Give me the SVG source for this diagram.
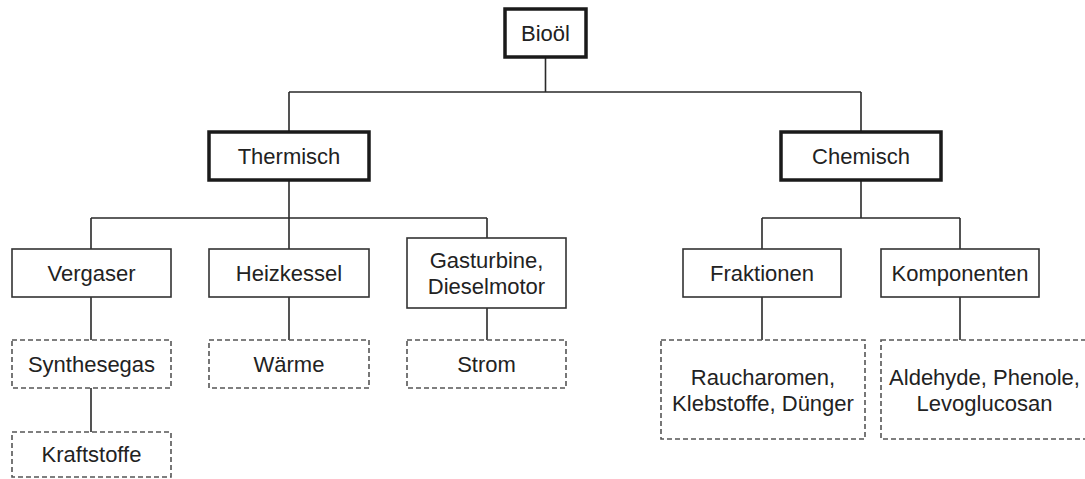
<svg xmlns="http://www.w3.org/2000/svg" width="1085" height="479" viewBox="0 0 1085 479">
<style>
text{font-family:"Liberation Sans",Arial,sans-serif;font-size:22px;fill:#222;text-anchor:middle}
.thick{fill:#fff;stroke:#1a1a1a;stroke-width:3.5}
.thin{fill:#fff;stroke:#333;stroke-width:1.6}
.dash{fill:#fff;stroke:#555;stroke-width:1.6;stroke-dasharray:5 3}
#connectors path{fill:none;stroke:#2a2a2a;stroke-width:1.6}
</style>
<rect width="1085" height="479" fill="#fff"/>
<g id="connectors">
<path d="M545.5 57V92M289 92H861M289 92V132M861 92V132"/>
<path d="M289 180V218M91 218H487M91 218V249M289 218V249M487 218V238"/>
<path d="M861 180V218M762 218H960M762 218V249M960 218V249"/>
<path d="M91 297V341M289 297V341M487 308V341M91 388V432M762 297V341M960 297V341"/>
</g>
<g id="bioel"><rect class="thick" x="505" y="9" width="81" height="48"/><text x="545.5" y="41">Bioöl</text></g>
<g id="thermisch"><rect class="thick" x="209" y="132" width="160" height="48"/><text x="289" y="163.5">Thermisch</text></g>
<g id="chemisch"><rect class="thick" x="781" y="132" width="160" height="48"/><text x="861" y="163.5">Chemisch</text></g>
<g id="vergaser"><rect class="thin" x="12" y="249" width="159" height="48"/><text x="91.5" y="280.5">Vergaser</text></g>
<g id="heizkessel"><rect class="thin" x="209" y="249" width="160" height="48"/><text x="289" y="280.5">Heizkessel</text></g>
<g id="gasturbine"><rect class="thin" x="407" y="238" width="159" height="70"/><text x="486.5" y="267.5">Gasturbine,</text><text x="486.5" y="293.5">Dieselmotor</text></g>
<g id="fraktionen"><rect class="thin" x="683" y="249" width="158" height="48"/><text x="762" y="280.5">Fraktionen</text></g>
<g id="komponenten"><rect class="thin" x="881" y="249" width="158" height="48"/><text x="960" y="280.5">Komponenten</text></g>
<g id="synthesegas"><rect class="dash" x="12" y="340" width="159" height="48"/><text x="91.5" y="371.5">Synthesegas</text></g>
<g id="waerme"><rect class="dash" x="209" y="340" width="160" height="48"/><text x="289" y="371.5">Wärme</text></g>
<g id="strom"><rect class="dash" x="407" y="340" width="159" height="48"/><text x="486.5" y="371.5">Strom</text></g>
<g id="kraftstoffe"><rect class="dash" x="12" y="432" width="159" height="45"/><text x="91.5" y="462">Kraftstoffe</text></g>
<g id="raucharomen"><rect class="dash" x="661" y="340" width="204" height="99"/><text x="763" y="384.5">Raucharomen,</text><text x="763" y="410.5">Klebstoffe, Dünger</text></g>
<g id="aldehyde"><rect class="dash" x="881" y="340" width="210" height="99"/><text x="984.5" y="384.5">Aldehyde, Phenole,</text><text x="984.5" y="410.5">Levoglucosan</text></g>
</svg>
